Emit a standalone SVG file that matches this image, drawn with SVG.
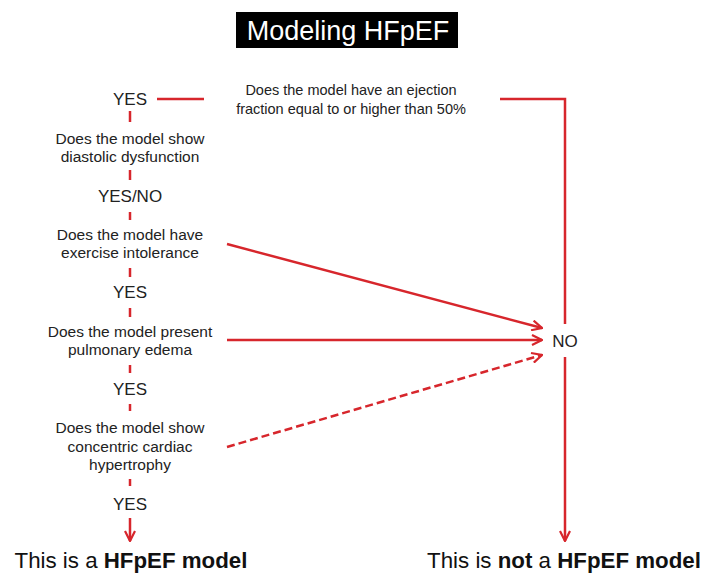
<svg xmlns="http://www.w3.org/2000/svg" width="703" height="573" viewBox="0 0 703 573">
<style>
.t{font-family:"Liberation Sans",Arial,sans-serif;font-size:15.5px;fill:#222;text-anchor:middle}
.e{font-size:14.5px}
.y{font-family:"Liberation Sans",Arial,sans-serif;font-size:17px;fill:#222;text-anchor:middle}
.r{font-family:"Liberation Sans",Arial,sans-serif;font-size:22.3px;fill:#111;text-anchor:middle}
.l{stroke:#d7262c;stroke-width:2.5;fill:none}
.d{stroke-dasharray:8 4}
</style>
<defs>
<marker id="ah" viewBox="0 0 12 12" refX="11" refY="6" markerWidth="12" markerHeight="12" markerUnits="userSpaceOnUse" orient="auto">
<path d="M1 1 L11 6 L1 11" stroke="#d7262c" stroke-width="2.2" fill="none"/>
</marker>
</defs>
<rect width="703" height="573" fill="#fff"/>
<g id="title">
<rect x="236" y="12" width="222" height="36" fill="#000"/>
<text x="348" y="40" font-family="Liberation Sans,Arial,sans-serif" font-size="27" fill="#fff" text-anchor="middle">Modeling HFpEF</text>
</g>
<g id="connectors">
<line class="l" x1="157" y1="99" x2="204" y2="99"/>
<polyline class="l" points="500,99 565,99 565,324"/>
<line class="l" x1="565" y1="357" x2="565" y2="541" marker-end="url(#ah)"/>
<line class="l" x1="227" y1="244" x2="542" y2="328" marker-end="url(#ah)"/>
<line class="l" x1="227" y1="340" x2="542" y2="340" marker-end="url(#ah)"/>
<line class="l d" x1="227" y1="447" x2="542" y2="355" marker-end="url(#ah)"/>
<line class="l" x1="130" y1="111" x2="130" y2="122"/>
<line class="l" x1="130" y1="170" x2="130" y2="180"/>
<line class="l" x1="130" y1="212" x2="130" y2="220"/>
<line class="l" x1="130" y1="268" x2="130" y2="277"/>
<line class="l" x1="130" y1="308" x2="130" y2="317"/>
<line class="l" x1="130" y1="365" x2="130" y2="373"/>
<line class="l" x1="130" y1="404" x2="130" y2="411"/>
<line class="l" x1="130" y1="479" x2="130" y2="486"/>
<line class="l" x1="130" y1="518" x2="130" y2="541" marker-end="url(#ah)"/>
</g>
<g id="yes1"><text class="y" x="130" y="105">YES</text></g>
<g id="q-ef"><text class="t e" x="351" y="95">Does the model have an ejection</text><text class="t e" x="351" y="114">fraction equal to or higher than 50%</text></g>
<g id="q-diastolic"><text class="t" x="130" y="144">Does the model show</text><text class="t" x="130" y="162">diastolic dysfunction</text></g>
<g id="yesno"><text class="y" x="130" y="202">YES/NO</text></g>
<g id="q-exercise"><text class="t" x="130" y="240">Does the model have</text><text class="t" x="130" y="258">exercise intolerance</text></g>
<g id="yes2"><text class="y" x="130" y="298">YES</text></g>
<g id="q-edema"><text class="t" x="130" y="337">Does the model present</text><text class="t" x="130" y="355">pulmonary edema</text></g>
<g id="yes3"><text class="y" x="130" y="395">YES</text></g>
<g id="q-hypertrophy"><text class="t" x="130" y="433">Does the model show</text><text class="t" x="130" y="452">concentric cardiac</text><text class="t" x="130" y="470">hypertrophy</text></g>
<g id="yes4"><text class="y" x="130" y="510">YES</text></g>
<g id="no"><text class="y" x="565" y="347">NO</text></g>
<g id="result-yes"><text class="r" x="131" y="568">This is a <tspan font-weight="bold">HFpEF model</tspan></text></g>
<g id="result-no"><text class="r" x="564" y="568">This is <tspan font-weight="bold">not</tspan> a <tspan font-weight="bold">HFpEF model</tspan></text></g>
</svg>
